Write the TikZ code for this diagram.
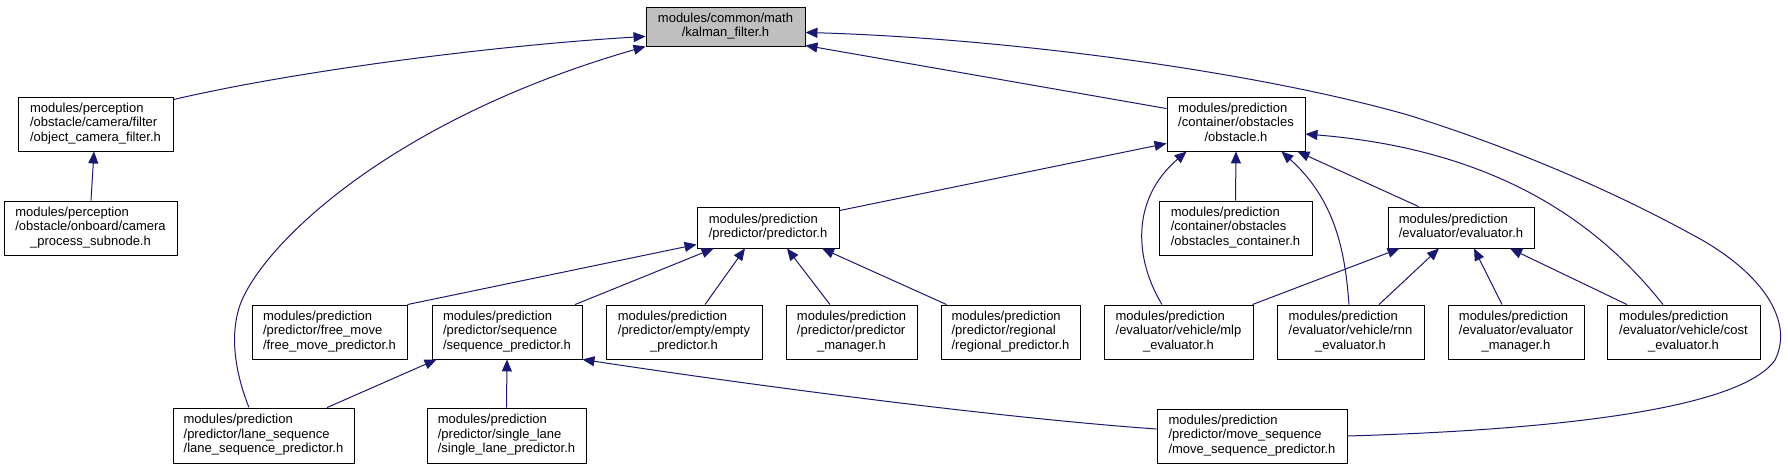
\documentclass[tikz,border=0pt]{standalone}
\usepackage{fontspec}
\setmainfont{Liberation Sans}
\usetikzlibrary{arrows.meta,calc}
\definecolor{edgeblue}{HTML}{191970}
\definecolor{kgray}{HTML}{BFBFBF}
\newcommand{\lastln}[1]{\multicolumn{1}{@{}c@{}}{#1}}
\newcommand{\fl}[1]{\begin{tabular}{@{}l@{}}#1\end{tabular}}
\begin{document}
\begin{tikzpicture}[x=1pt,y=-1pt,
  font=\fontsize{13}{14.5}\selectfont,
  box/.style={draw=black, line width=0.9pt, fill=white, inner sep=0pt, minimum height=54pt, text=black},
  edge/.style={draw=edgeblue, line width=1pt, -{Triangle[length=12pt,width=10pt]}}]
\useasboundingbox (0,0) rectangle (1788,469);

% nodes
\node[box, fill=kgray, minimum width=159pt, minimum height=39pt] (kalman) at (725.5,26.5) {\fl{modules/common/math\\\lastln{/kalman\_filter.h}}};
\node[box, minimum width=155pt] (ocf) at (95.5,124) {\fl{modules/perception\\/obstacle/camera/filter\\\lastln{/object\_camera\_filter.h}}};
\node[box, minimum width=173pt] (cps) at (90.5,228) {\fl{modules/perception\\/obstacle/onboard/camera\\\lastln{\_process\_subnode.h}}};
\node[box, minimum width=138pt] (obst) at (1236,124) {\fl{modules/prediction\\/container/obstacles\\\lastln{/obstacle.h}}};
\node[box, minimum width=142pt, minimum height=41pt] (pred) at (768,227.5) {\fl{modules/prediction\\\lastln{/predictor/predictor.h}}};
\node[box, minimum width=153pt] (cont) at (1235.5,228) {\fl{modules/prediction\\/container/obstacles\\\lastln{/obstacles\_container.h}}};
\node[box, minimum width=146pt, minimum height=41pt] (eval) at (1461,227.5) {\fl{modules/prediction\\\lastln{/evaluator/evaluator.h}}};
\node[box, minimum width=155pt] (free) at (329.5,332) {\fl{modules/prediction\\/predictor/free\_move\\\lastln{/free\_move\_predictor.h}}};
\node[box, minimum width=150pt] (seq) at (507,332) {\fl{modules/prediction\\/predictor/sequence\\\lastln{/sequence\_predictor.h}}};
\node[box, minimum width=156pt] (empty) at (684,332) {\fl{modules/prediction\\/predictor/empty/empty\\\lastln{\_predictor.h}}};
\node[box, minimum width=131pt] (pman) at (851.5,332) {\fl{modules/prediction\\/predictor/predictor\\\lastln{\_manager.h}}};
\node[box, minimum width=139pt] (regional) at (1010.5,332) {\fl{modules/prediction\\/predictor/regional\\\lastln{/regional\_predictor.h}}};
\node[box, minimum width=149pt] (mlp) at (1178.5,332) {\fl{modules/prediction\\/evaluator/vehicle/mlp\\\lastln{\_evaluator.h}}};
\node[box, minimum width=147pt] (rnn) at (1350.5,332) {\fl{modules/prediction\\/evaluator/vehicle/rnn\\\lastln{\_evaluator.h}}};
\node[box, minimum width=136pt] (eman) at (1516,332) {\fl{modules/prediction\\/evaluator/evaluator\\\lastln{\_manager.h}}};
\node[box, minimum width=153pt] (cost) at (1683.5,332) {\fl{modules/prediction\\/evaluator/vehicle/cost\\\lastln{\_evaluator.h}}};
\node[box, minimum width=181pt, minimum height=55pt] (lane) at (263.5,435.5) {\fl{modules/prediction\\/predictor/lane\_sequence\\\lastln{/lane\_sequence\_predictor.h}}};
\node[box, minimum width=159pt, minimum height=55pt] (single) at (506.5,435.5) {\fl{modules/prediction\\/predictor/single\_lane\\\lastln{/single\_lane\_predictor.h}}};
\node[box, minimum width=190pt] (move) at (1252,436) {\fl{modules/prediction\\/predictor/move\_sequence\\\lastln{/move\_sequence\_predictor.h}}};

% edges (child -> parent, arrow at parent)
\draw[edge] ($(ocf.north east)+(0,3)$) .. controls (300,70) and (500,45) .. ($(kalman.south west)+(0,-10)$);
\draw[edge] ($(cps.north)+(0.5,0)$) -- ($(ocf.south)+(-1.5,0)$);
\draw[edge] ($(lane.north)+(-14.5,0)$) .. controls (238,380) and (228,340) .. (240,305) .. controls (262,245) and (390,120) .. (kalman.south west);
\draw[edge] ($(obst.north west)+(0,12)$) -- ($(kalman.south east)+(0,-1)$);
\draw[edge] (move.east) .. controls (1550,430) and (1740,410) .. (1775,360) .. controls (1795,320) and (1760,270) .. (1691,234) .. controls (1620,195) and (1520,150) .. (1408,115) .. controls (1250,70) and (1000,38) .. ($(kalman.south east)+(0,-14)$);

\draw[edge] ($(pred.north east)+(0,4)$) -- ($(obst.south west)+(0,-8)$);
\draw[edge] ($(mlp.north)+(-16.5,0)$) .. controls (1135,260) and (1130,200) .. ($(obst.south west)+(20,0)$);
\draw[edge] (cont.north) -- (obst.south);
\draw[edge] ($(rnn.north)+(-1.5,0)$) .. controls (1345,250) and (1335,200) .. ($(obst.south east)+(-24,0)$);
\draw[edge] ($(eval.north west)+(31,0)$) -- ($(obst.south east)+(-8,0)$);
\draw[edge] ($(cost.north)+(-20.5,0)$) .. controls (1600,225) and (1500,150) .. ($(obst.east)+(0,10)$);

\draw[edge] (free.north east) -- ($(pred.south west)+(0,-4)$);
\draw[edge] ($(seq.north)+(68,0)$) -- ($(pred.south west)+(17,0)$);
\draw[edge] ($(empty.north)+(21,0)$) -- ($(pred.south)+(-23,0)$);
\draw[edge] ($(pman.north)+(-21.5,0)$) -- ($(pred.south)+(19,0)$);
\draw[edge] ($(regional.north west)+(6,0)$) -- ($(pred.south)+(54,0)$);

\draw[edge] ($(mlp.north east)+(-1,0)$) -- ($(eval.south west)+(12,0)$);
\draw[edge] ($(rnn.north)+(28.5,0)$) -- ($(eval.south)+(-22,0)$);
\draw[edge] ($(eman.north)+(-14,0)$) -- ($(eval.south)+(13,0)$);
\draw[edge] ($(cost.north)+(-56.5,0)$) -- ($(eval.south)+(49,0)$);

\draw[edge] ($(lane.north)+(63.5,0)$) -- ($(seq.south west)+(5,0)$);
\draw[edge] (single.north) -- (seq.south);
\draw[edge] ($(move.west)+(0,-7)$) .. controls (1000,418) and (750,385) .. (seq.south east);
\end{tikzpicture}
\end{document}
